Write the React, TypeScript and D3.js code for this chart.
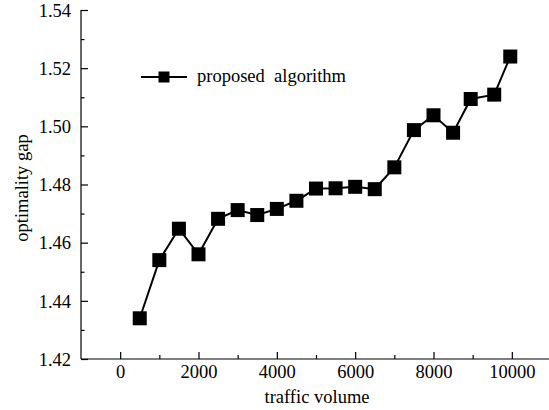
import * as d3 from "d3";
import { useRef, useEffect } from "react";

// values
const traffic = [500, 1000, 1500, 2000, 2500, 3000, 3500, 4000, 4500, 5000,
  5500, 6000, 6500, 7000, 7500, 8000, 8500, 8950, 9550, 9960];
const gap = [1.434, 1.454, 1.4648, 1.456, 1.4682, 1.4712, 1.4695, 1.4716, 1.4744, 1.4786,
  1.4787, 1.4792, 1.4784, 1.4859, 1.4987, 1.5038, 1.4978, 1.5094, 1.5109, 1.524];
const xTicks = [0, 2000, 4000, 6000, 8000, 10000];
const xMinor = [1000, 3000, 5000, 7000, 9000];
const yTicks = [1.42, 1.44, 1.46, 1.48, 1.50, 1.52, 1.54];
const yMinor = [1.43, 1.45, 1.47, 1.49, 1.51, 1.53];
const seriesName = "proposed  algorithm";

const W = 549, H = 410;
const FONT = "'Liberation Serif', 'Times New Roman', serif";
const FS = "18.5px";

export default function App() {
  const ref = useRef<SVGSVGElement>(null);

  useEffect(() => {
    const svg = d3.select(ref.current);
    svg.selectAll("*").remove();

    const x = d3.scaleLinear().domain([-1000, 11000]).range([81, 551]);
    const y = d3.scaleLinear().domain([1.42, 1.54]).range([359, 10]);
    const x0 = 81, y0 = 359;

    // x axis, ticks pointing inward
    const gx = svg.append("g").attr("transform", `translate(0,${y0})`);
    gx.call(d3.axisTop(x).tickValues(xMinor).tickSize(4).tickFormat(() => ""));
    gx.select(".domain").remove();
    const gx2 = svg.append("g").attr("transform", `translate(0,${y0})`);
    gx2.call(d3.axisTop(x).tickValues(xTicks).tickSize(7).tickFormat(d3.format("d")));
    gx2.selectAll(".tick text").attr("y", 19).attr("dy", "0");
    gx2.select(".domain").remove();
    svg.append("line")
      .attr("x1", x0).attr("x2", W).attr("y1", y0).attr("y2", y0)
      .attr("stroke", "#000").attr("stroke-width", 1.2);

    // y axis, ticks pointing inward
    const gy = svg.append("g").attr("transform", `translate(${x0},0)`);
    gy.call(d3.axisRight(y).tickValues(yMinor).tickSize(3.5).tickFormat(() => ""));
    gy.select(".domain").remove();
    const gy2 = svg.append("g").attr("transform", `translate(${x0},0)`);
    gy2.call(d3.axisRight(y).tickValues(yTicks).tickSize(7).tickFormat(d3.format(".2f")));
    gy2.selectAll(".tick text").attr("x", -10).attr("text-anchor", "end").attr("dy", "0.34em");
    gy2.select(".domain").remove();
    svg.append("line")
      .attr("x1", x0).attr("x2", x0).attr("y1", y(1.54)).attr("y2", y0)
      .attr("stroke", "#000").attr("stroke-width", 1.2);

    svg.selectAll(".tick line").attr("stroke", "#000").attr("stroke-width", 1.2);
    svg.selectAll(".tick text")
      .attr("fill", "#000")
      .style("font-family", FONT)
      .style("font-size", FS);

    // series
    const pts = traffic.map((t, i) => ({ t, v: gap[i] }));
    svg.append("path")
      .datum(pts)
      .attr("fill", "none")
      .attr("stroke", "#000")
      .attr("stroke-width", 2)
      .attr("d", d3.line<{ t: number; v: number }>().x(d => x(d.t)).y(d => y(d.v)));

    const s = 14;
    svg.append("g")
      .selectAll("rect")
      .data(pts)
      .join("rect")
      .attr("x", d => x(d.t) - s / 2)
      .attr("y", d => y(d.v) - s / 2)
      .attr("width", s)
      .attr("height", s)
      .attr("fill", "#000");

    // legend
    svg.append("line")
      .attr("x1", 141).attr("x2", 187).attr("y1", 77).attr("y2", 77)
      .attr("stroke", "#000").attr("stroke-width", 2);
    svg.append("rect")
      .attr("x", 164 - 5.5).attr("y", 77 - 5.5).attr("width", 11).attr("height", 11)
      .attr("fill", "#000");
    svg.append("text")
      .attr("x", 197).attr("y", 82)
      .style("font-family", FONT).style("font-size", FS)
      .style("white-space", "pre")
      .text(seriesName);

    // axis titles
    svg.append("text")
      .attr("x", 317).attr("y", 403)
      .attr("text-anchor", "middle")
      .style("font-family", FONT).style("font-size", FS)
      .text("traffic volume");
    svg.append("text")
      .attr("transform", "translate(28,188) rotate(-90)")
      .attr("text-anchor", "middle")
      .style("font-family", FONT).style("font-size", FS)
      .text("optimality gap");
  }, []);

  return (
    <svg
      ref={ref}
      width={W}
      height={H}
      style={{ position: "absolute", left: 0, top: 0, background: "#fff" }}
    />
  );
}
